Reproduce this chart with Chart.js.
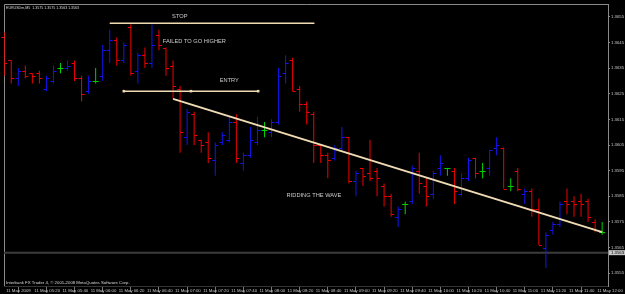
<!DOCTYPE html>
<html>
<head>
<meta charset="utf-8">
<script src="https://cdn.jsdelivr.net/npm/chart.js@4.4.1/dist/chart.umd.min.js"></script>
<style>
  html, body { margin: 0; padding: 0; background: #000; overflow: hidden; }
</style>
</head>
<body>
<canvas id="chart" width="625" height="294"></canvas>
<script>
// EURUSDm M5, 11 May 2009, bar 0 = 05:00
const opens = [
  1.3647, 1.3638, 1.3631, 1.3634, 1.3633, 1.3633, 1.3627, 1.3630, 1.3635, 1.3635,
  1.3637, 1.3631, 1.3626, 1.3630, 1.3632, 1.3642, 1.3646, 1.3638, 1.3651, 1.3634,
  1.3640, 1.3637, 1.3648, 1.3643, 1.3636, 1.3627, 1.3608, 1.3617, 1.3607, 1.3606,
  1.3599, 1.3606, 1.3607, 1.3614, 1.3598, 1.3601, 1.3606, 1.3611, 1.3610, 1.3614,
  1.3633, 1.3638, 1.3627, 1.3621, 1.3617, 1.3605, 1.3601, 1.3600, 1.3604, 1.3608,
  1.3591, 1.3596, 1.3594, 1.3595, 1.3589, 1.3585, 1.3577, 1.3582, 1.3583, 1.3595,
  1.3589, 1.3586, 1.3596, 1.3596, 1.3595, 1.3586, 1.3592, 1.3600, 1.3595, 1.3596,
  1.3604, 1.3604, 1.3589, 1.3595, 1.3586, 1.3587, 1.3580, 1.3565, 1.3572, 1.3574,
  1.3583, 1.3583, 1.3583, 1.3583, 1.3575, 1.3571
];
const highs = [
  1.3649, 1.3638, 1.3635, 1.3636, 1.3633, 1.3634, 1.3632, 1.3636, 1.3637, 1.3638,
  1.3638, 1.3632, 1.3632, 1.3635, 1.3644, 1.3650, 1.3647, 1.3645, 1.3652, 1.3641,
  1.3643, 1.3652, 1.3650, 1.3643, 1.3638, 1.3628, 1.3619, 1.3618, 1.3607, 1.3610,
  1.3606, 1.3610, 1.3616, 1.3617, 1.3602, 1.3612, 1.3616, 1.3614, 1.3615, 1.3635,
  1.3640, 1.3639, 1.3628, 1.3622, 1.3618, 1.3605, 1.3602, 1.3605, 1.3612, 1.3608,
  1.3595, 1.3596, 1.3607, 1.3596, 1.3590, 1.3586, 1.3581, 1.3583, 1.3597, 1.3602,
  1.3592, 1.3595, 1.3601, 1.3596, 1.3596, 1.3594, 1.3600, 1.3600, 1.3598, 1.3603,
  1.3608, 1.3604, 1.3592, 1.3596, 1.3588, 1.3588, 1.3584, 1.3571, 1.3575, 1.3583,
  1.3588, 1.3585, 1.3586, 1.3584, 1.3576, 1.3575
];
const lows = [
  1.3632, 1.3629, 1.3628, 1.3631, 1.3629, 1.3629, 1.3626, 1.3629, 1.3633, 1.3634,
  1.3630, 1.3622, 1.3625, 1.3629, 1.3630, 1.3637, 1.3636, 1.3637, 1.3632, 1.3629,
  1.3635, 1.3635, 1.3642, 1.3632, 1.3623, 1.3602, 1.3605, 1.3605, 1.3602, 1.3598,
  1.3593, 1.3605, 1.3606, 1.3598, 1.3595, 1.3600, 1.3605, 1.3608, 1.3608, 1.3613,
  1.3629, 1.3626, 1.3618, 1.3613, 1.3598, 1.3598, 1.3592, 1.3599, 1.3603, 1.3590,
  1.3585, 1.3589, 1.3591, 1.3585, 1.3581, 1.3577, 1.3573, 1.3578, 1.3582, 1.3586,
  1.3581, 1.3584, 1.3593, 1.3593, 1.3582, 1.3585, 1.3591, 1.3592, 1.3592, 1.3593,
  1.3601, 1.3588, 1.3587, 1.3587, 1.3582, 1.3577, 1.3566, 1.3557, 1.3570, 1.3573,
  1.3578, 1.3577, 1.3577, 1.3575, 1.3571, 1.3570
];
const closes = [
  1.3637, 1.3631, 1.3634, 1.3632, 1.3632, 1.3631, 1.3631, 1.3634, 1.3635, 1.3636,
  1.3631, 1.3625, 1.3630, 1.3630, 1.3642, 1.3646, 1.3638, 1.3644, 1.3633, 1.3640,
  1.3637, 1.3644, 1.3644, 1.3635, 1.3628, 1.3610, 1.3618, 1.3609, 1.3605, 1.3600,
  1.3605, 1.3609, 1.3614, 1.3600, 1.3601, 1.3607, 1.3611, 1.3611, 1.3614, 1.3632,
  1.3637, 1.3626, 1.3621, 1.3618, 1.3605, 1.3601, 1.3599, 1.3604, 1.3608, 1.3591,
  1.3594, 1.3593, 1.3592, 1.3592, 1.3585, 1.3578, 1.3580, 1.3582, 1.3596, 1.3590,
  1.3585, 1.3594, 1.3598, 1.3596, 1.3587, 1.3592, 1.3599, 1.3594, 1.3595, 1.3603,
  1.3605, 1.3588, 1.3589, 1.3588, 1.3587, 1.3580, 1.3566, 1.3570, 1.3574, 1.3582,
  1.3582, 1.3582, 1.3582, 1.3577, 1.3572, 1.3571
];

const timeBars = [0, 4, 8, 12, 16, 20, 24, 28, 32, 36, 40, 44, 48, 52, 56, 60, 64, 68, 72, 76, 80, 84];
const timeLabels = [
  '11 May 2009', '11 May 05:20', '11 May 05:40', '11 May 06:00', '11 May 06:20', '11 May 06:40',
  '11 May 07:00', '11 May 07:20', '11 May 07:40', '11 May 08:00', '11 May 08:20', '11 May 08:40',
  '11 May 09:00', '11 May 09:20', '11 May 09:40', '11 May 10:00', '11 May 10:20', '11 May 10:40',
  '11 May 11:00', '11 May 11:20', '11 May 11:40', '11 May 12:00'
];
const priceTicks = [1.3555, 1.3565, 1.3575, 1.3585, 1.3595, 1.3605, 1.3615, 1.3625, 1.3635, 1.3645, 1.3655];
const bidPrice = 1.3563;

// drawn objects, in bar index / price
const stopLine = [{ x: 15, y: 1.36525 }, { x: 44.1, y: 1.36525 }];
const entryLine = [{ x: 17, y: 1.3626 }, { x: 36.1, y: 1.3626 }];
const trendLine = [{ x: 24, y: 1.3623 }, { x: 85, y: 1.3571 }];
const notes = [
  { text: 'STOP', x: 24.96, y: 1.36552 },
  { text: 'FAILED TO GO HIGHER', x: 27.03, y: 1.36453 },
  { text: 'ENTRY', x: 32.0, y: 1.363 },
  { text: 'RIDDING THE WAVE', x: 44.03, y: 1.35854 },
];

const FONT = "'Liberation Sans', Arial, sans-serif";
const upColor = '#1414f0';
const downColor = '#f00000';
const flatColor = '#00d200';
const wheat = '#f0dcb4';

const barColors = opens.map((o, i) => (closes[i] > o ? upColor : closes[i] < o ? downColor : flatColor));
const entryMid = { x: (entryLine[0].x + entryLine[1].x) / 2, y: entryLine[0].y };

// open tick on the left, close tick on the right
const ohlcTicks = {
  id: 'ohlcTicks',
  afterDatasetDraw(chart, args) {
    if (args.index !== 0) return;
    const { ctx, scales: { x, y } } = chart;
    ctx.save();
    ctx.lineWidth = 1;
    opens.forEach((o, i) => {
      const px = x.getPixelForValue(i);
      const yo = Math.round(y.getPixelForValue(o)) + 0.5;
      const yc = Math.round(y.getPixelForValue(closes[i])) + 0.5;
      ctx.strokeStyle = barColors[i];
      ctx.beginPath();
      ctx.moveTo(px - 3, yo);
      ctx.lineTo(px, yo);
      ctx.moveTo(px, yc);
      ctx.lineTo(px + 3, yc);
      ctx.stroke();
    });
    ctx.restore();
  },
};

const decor = {
  id: 'decor',
  beforeDatasetsDraw(chart) {
    const { ctx, chartArea: a, scales: { y } } = chart;
    ctx.save();
    // frame
    ctx.strokeStyle = '#8a8a8a';
    ctx.lineWidth = 1;
    ctx.beginPath();
    ctx.moveTo(a.left + 0.5, a.bottom);
    ctx.lineTo(a.left + 0.5, a.top + 0.5);
    ctx.lineTo(a.right, a.top + 0.5);
    ctx.stroke();
    // bid line
    const yb = y.getPixelForValue(bidPrice);
    ctx.strokeStyle = '#3c3c3c';
    ctx.lineWidth = 2;
    ctx.beginPath();
    ctx.moveTo(a.left, yb);
    ctx.lineTo(a.right, yb);
    ctx.stroke();
    ctx.restore();
  },
  afterDatasetsDraw(chart) {
    const { ctx, chartArea: a, scales: { x, y } } = chart;
    ctx.save();
    ctx.fillStyle = '#cccccc';
    ctx.font = `5.7px ${FONT}`;
    ctx.textAlign = 'center';
    ctx.textBaseline = 'middle';
    notes.forEach((n) => ctx.fillText(n.text, x.getPixelForValue(n.x), y.getPixelForValue(n.y)));

    ctx.textAlign = 'left';
    ctx.fillStyle = '#d8d8d8';
    ctx.font = `3.6px ${FONT}`;
    ctx.fillText('EURUSDm,M5  1.3575 1.3575 1.3563 1.3563', a.left + 2, a.top + 3.5);
    ctx.font = `4.3px ${FONT}`;
    ctx.fillText('Interbank FX Trader 4, \u00a9 2001-2008 MetaQuotes Software Corp.', a.left + 2, a.bottom - 3.5);

    // bid label
    const yb = y.getPixelForValue(bidPrice);
    ctx.fillStyle = '#c8c8c8';
    ctx.fillRect(a.right + 1, yb - 2.5, 16, 5);
    ctx.fillStyle = '#000';
    ctx.fillText(bidPrice.toFixed(4), a.right + 3, yb + 0.2);
    ctx.restore();
  },
};

new Chart(document.getElementById('chart'), {
  type: 'bar',
  data: {
    datasets: [
      {
        data: highs.map((h, i) => ({ x: i, y: [lows[i], h] })),
        backgroundColor: barColors,
        barThickness: 1,
        borderWidth: 0,
        inflateAmount: 0,
        grouped: false,
        order: 2,
      },
      {
        type: 'line',
        data: stopLine,
        borderColor: wheat,
        borderWidth: 1.5,
        pointRadius: 0,
        order: 0,
      },
      {
        type: 'line',
        data: [entryLine[0], entryMid, entryLine[1]],
        borderColor: wheat,
        borderWidth: 1.5,
        pointStyle: 'rect',
        pointRadius: 1.8,
        pointBackgroundColor: wheat,
        pointBorderWidth: 0,
        order: 0,
      },
      {
        type: 'line',
        data: trendLine,
        borderColor: wheat,
        borderWidth: 2,
        pointRadius: 0,
        order: 0,
      },
    ],
  },
  options: {
    responsive: false,
    devicePixelRatio: 1,
    animation: false,
    events: [],
    layout: { padding: { left: 1, top: 1, right: 0, bottom: 0 } },
    plugins: { legend: { display: false }, tooltip: { enabled: false } },
    scales: {
      x: {
        type: 'linear',
        offset: false,
        min: -0.03,
        max: 85.83,
        afterBuildTicks: (scale) => { scale.ticks = timeBars.map((v) => ({ value: v })); },
        afterFit: (scale) => { scale.height = 8; },
        grid: { drawOnChartArea: false, tickLength: 6, color: '#7a7a7a' },
        border: { display: true, color: '#333333' },
        ticks: {
          autoSkip: false,
          maxRotation: 0,
          minRotation: 0,
          align: 'start',
          labelOffset: 2,
          padding: -4,
          color: '#c8c8c8',
          font: { size: 4.3, family: FONT },
          callback: (v) => timeLabels[timeBars.indexOf(v)],
        },
      },
      y: {
        position: 'right',
        min: 1.355,
        max: 1.366,
        afterBuildTicks: (scale) => { scale.ticks = priceTicks.map((v) => ({ value: v })); },
        afterFit: (scale) => { scale.width = 17; },
        grid: { drawOnChartArea: false, tickLength: 2, color: '#8a8a8a' },
        border: { display: true, color: '#8a8a8a' },
        ticks: {
          padding: 1,
          color: '#c8c8c8',
          font: { size: 4.3, family: FONT },
          callback: (v) => v.toFixed(4),
        },
      },
    },
  },
  plugins: [ohlcTicks, decor],
});
</script>
</body>
</html>
